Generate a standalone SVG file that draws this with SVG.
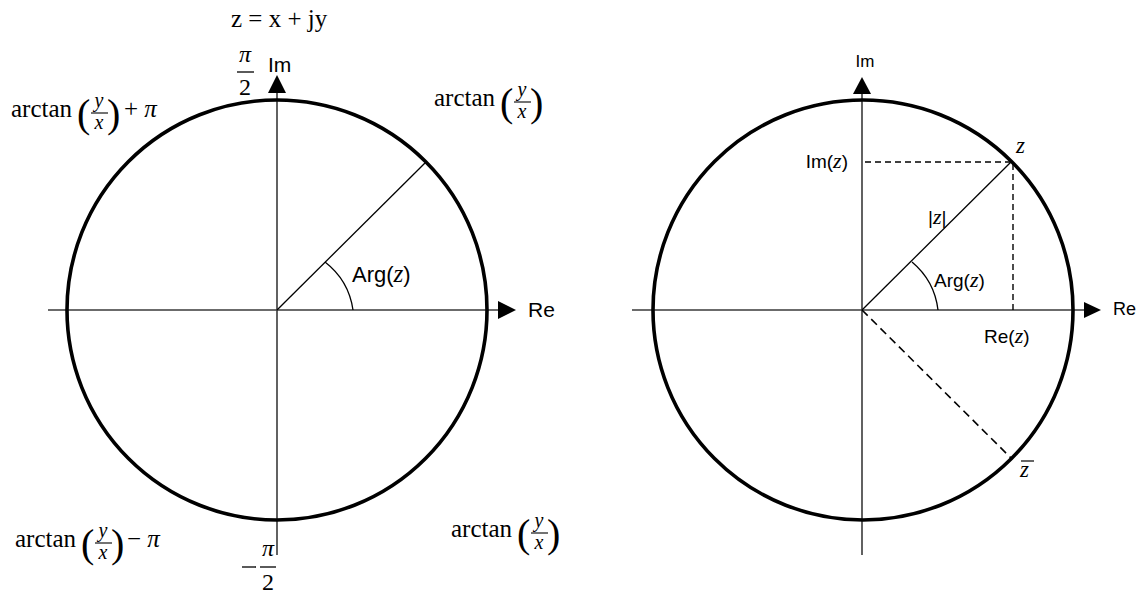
<svg xmlns="http://www.w3.org/2000/svg" width="1141" height="593" viewBox="0 0 1141 593">
<style>
.axis{stroke:#3a3a3a;stroke-width:1.6;fill:none}
.circ{stroke:#000;stroke-width:3.6;fill:none}
.thin{stroke:#000;stroke-width:1.3;fill:none}
.dash{stroke:#000;stroke-width:1.4;fill:none;stroke-dasharray:6 4}
.dash2{stroke:#000;stroke-width:1.6;fill:none;stroke-dasharray:8 5}
.head{fill:#000}
.m{font-family:"Liberation Serif","DejaVu Serif",serif;fill:#000}
.mi{font-family:"Liberation Serif","DejaVu Serif",serif;font-style:italic;fill:#000}
.s{font-family:"Liberation Sans","DejaVu Sans",sans-serif;fill:#000}
</style>
<rect width="1141" height="593" fill="#fff"/>

<g id="connectors">
  <line class="axis" x1="48" y1="310" x2="500" y2="310"/>
  <polygon class="head" points="516,310 498,301 498,319"/>
  <line class="axis" x1="277" y1="555" x2="277" y2="90"/>
  <polygon class="head" points="277,75 268,93 286,93"/>
  <line class="thin" x1="277" y1="310" x2="426" y2="162"/>
  <path class="thin" d="M353,310 A74,74 0 0 0 325,262"/>
  <line class="axis" x1="632" y1="310" x2="1086" y2="310"/>
  <polygon class="head" points="1101,310 1084,302 1084,318"/>
  <line class="axis" x1="862" y1="555" x2="862" y2="92"/>
  <polygon class="head" points="862,77 853,94 871,94"/>
  <line class="thin" x1="862" y1="310" x2="1011" y2="162"/>
  <path class="thin" d="M938,310 A74,74 0 0 0 912,262"/>
  <line class="dash" x1="865" y1="162" x2="1012" y2="162"/>
  <line class="dash" x1="1013" y1="164" x2="1013" y2="310"/>
  <line class="dash2" x1="862" y1="310" x2="1011" y2="458"/>
</g>

<g id="circle-left"><circle class="circ" cx="277" cy="310" r="210"/></g>
<g id="circle-right"><circle class="circ" cx="863" cy="310" r="210"/></g>

<g id="title"><text class="m" x="231" y="27" font-size="25">z = x + jy</text></g>

<g id="pi-half">
  <text class="mi" x="245" y="62" font-size="24" text-anchor="middle">π</text>
  <line x1="237" y1="72" x2="254" y2="72" stroke="#000" stroke-width="1.3"/>
  <text class="m" x="245" y="95" font-size="24" text-anchor="middle">2</text>
</g>

<g id="neg-pi-half">
  <line x1="242" y1="567" x2="256" y2="567" stroke="#000" stroke-width="1.3"/>
  <text class="mi" x="268" y="556" font-size="24" text-anchor="middle">π</text>
  <line x1="260" y1="567" x2="276" y2="567" stroke="#000" stroke-width="1.3"/>
  <text class="m" x="268" y="590" font-size="24" text-anchor="middle">2</text>
</g>

<g id="label-im-left"><text class="s" x="268" y="72" font-size="21">Im</text></g>
<g id="label-re-left"><text class="s" x="528" y="317" font-size="21">Re</text></g>
<g id="label-arg-left"><text class="s" x="352" y="282" font-size="22">Arg(<tspan class="mi" font-size="25">z</tspan>)</text></g>

<g id="q2">
  <text class="m" x="11" y="117" font-size="25">arctan</text>
  <text class="m" x="77" y="127" font-size="40">(</text>
  <text class="mi" x="99" y="107" font-size="20" text-anchor="middle">y</text>
  <line x1="91" y1="113" x2="108" y2="113" stroke="#000" stroke-width="1.1"/>
  <text class="mi" x="99" y="129" font-size="20" text-anchor="middle">x</text>
  <text class="m" x="107" y="127" font-size="40">)</text>
  <text class="m" x="124" y="117" font-size="25">+ <tspan class="mi">π</tspan></text>
</g>

<g id="q1">
  <text class="m" x="434" y="106" font-size="25">arctan</text>
  <text class="m" x="500" y="116" font-size="40">(</text>
  <text class="mi" x="522" y="96" font-size="20" text-anchor="middle">y</text>
  <line x1="514" y1="102" x2="531" y2="102" stroke="#000" stroke-width="1.1"/>
  <text class="mi" x="522" y="118" font-size="20" text-anchor="middle">x</text>
  <text class="m" x="530" y="116" font-size="40">)</text>
</g>

<g id="q3">
  <text class="m" x="15" y="547" font-size="25">arctan</text>
  <text class="m" x="81" y="557" font-size="40">(</text>
  <text class="mi" x="103" y="537" font-size="20" text-anchor="middle">y</text>
  <line x1="95" y1="543" x2="112" y2="543" stroke="#000" stroke-width="1.1"/>
  <text class="mi" x="103" y="559" font-size="20" text-anchor="middle">x</text>
  <text class="m" x="111" y="557" font-size="40">)</text>
  <text class="m" x="127" y="547" font-size="25">− <tspan class="mi">π</tspan></text>
</g>

<g id="q4">
  <text class="m" x="451" y="537" font-size="25">arctan</text>
  <text class="m" x="517" y="547" font-size="40">(</text>
  <text class="mi" x="539" y="527" font-size="20" text-anchor="middle">y</text>
  <line x1="531" y1="533" x2="548" y2="533" stroke="#000" stroke-width="1.1"/>
  <text class="mi" x="539" y="549" font-size="20" text-anchor="middle">x</text>
  <text class="m" x="547" y="547" font-size="40">)</text>
</g>

<g id="label-im-right"><text class="s" x="865" y="67" font-size="17" text-anchor="middle">Im</text></g>
<g id="label-re-right"><text class="s" x="1113" y="315" font-size="18">Re</text></g>
<g id="label-z"><text class="mi" x="1016" y="153" font-size="23">z</text></g>
<g id="label-imz"><text class="s" x="848" y="168" font-size="19" text-anchor="end">Im(<tspan class="mi" font-size="22">z</tspan>)</text></g>
<g id="label-absz"><text class="s" x="928" y="224" font-size="19">|<tspan class="mi" font-size="22">z</tspan>|</text></g>
<g id="label-arg-right"><text class="s" x="934" y="287" font-size="19">Arg(<tspan class="mi" font-size="22">z</tspan>)</text></g>
<g id="label-rez"><text class="s" x="984" y="343" font-size="19">Re(<tspan class="mi" font-size="22">z</tspan>)</text></g>
<g id="label-zbar">
  <line x1="1021" y1="461" x2="1034" y2="461" stroke="#000" stroke-width="1.2"/>
  <text class="mi" x="1020" y="477" font-size="23">z</text>
</g>
</svg>
